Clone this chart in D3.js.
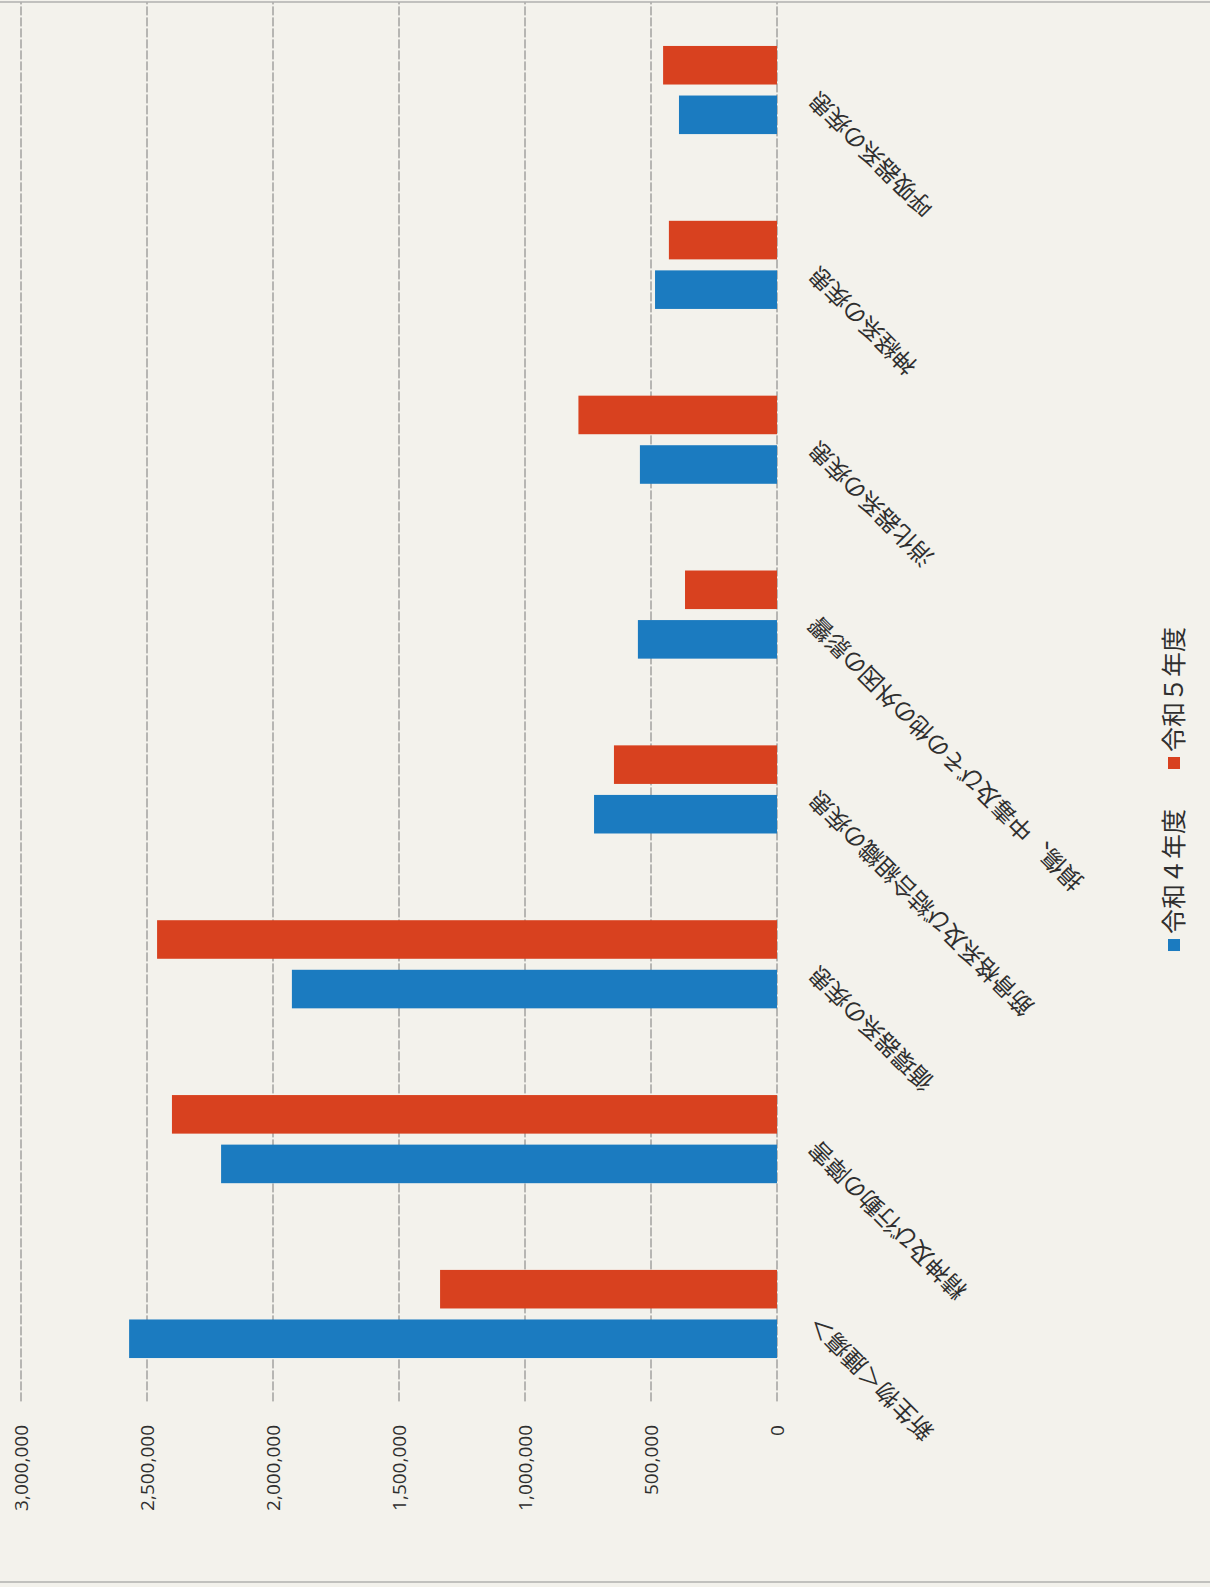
<!DOCTYPE html>
<html>
<head>
<meta charset="utf-8">
<script src="https://cdn.jsdelivr.net/npm/d3@7"></script>
<style>
  body { margin: 0; background: #f3f2ec; }
  svg { display: block; }
  text { font-family: "Noto Sans CJK JP", "Noto Sans", sans-serif; fill: #2f2f2f; }
</style>
</head>
<body>
<div id="chart"></div>
<script>
// values
var categories = [
  "新生物＜腫瘍＞",
  "精神及び行動の障害",
  "循環器系の疾患",
  "筋骨格系及び結合組織の疾患",
  "損傷、中毒及びその他の外因の影響",
  "消化器系の疾患",
  "神経系の疾患",
  "呼吸器系の疾患"
];
var seriesNames = ["令和４年度", "令和５年度"];
var r4Values = [2571000, 2206000, 1925000, 726000, 552000, 544000, 484000, 389000];
var r5Values = [1337000, 2401000, 2460000, 647000, 365000, 788000, 429000, 452000];
var tickValues = [0, 500000, 1000000, 1500000, 2000000, 2500000, 3000000];
var colors = ["#1b7bc0", "#d8411f"];

// the page was scanned on its side: draw the chart upright in a
// 1587 x 1210 box, then turn the whole group a quarter turn
var pageW = 1210, pageH = 1587;
var plot = {left: 185.6, right: 1584.4, top: 21, bottom: 777};

var rows = categories.map(function(c, i) {
  return {name: c, values: [r4Values[i], r5Values[i]]};
});

var svg = d3.select("#chart")
  .append("svg")
    .attr("width", pageW)
    .attr("height", pageH);

svg.append("rect")
  .attr("width", pageW)
  .attr("height", pageH)
  .attr("fill", "#f3f2ec");

var chart = svg.append("g")
  .attr("transform", "translate(0," + pageH + ") rotate(-90)");

// scales
var y = d3.scaleLinear()
  .domain([0, 3000000])
  .range([plot.bottom, plot.top]);

var x0 = d3.scaleBand()
  .domain(categories)
  .range([plot.left, plot.right])
  .paddingInner(0.496)
  .paddingOuter(0.248);

var x1 = d3.scaleBand()
  .domain(seriesNames)
  .range([0, x0.bandwidth()])
  .paddingInner(0.222);

// chart border (only the two long sides show on the page)
chart.append("rect")
  .attr("x", 5)
  .attr("y", -4)
  .attr("width", 1580)
  .attr("height", pageW + 8)
  .attr("fill", "none")
  .attr("stroke", "#a0a0a0")
  .attr("stroke-width", 1.2);

// gridlines
chart.append("g")
  .attr("class", "grid")
  .selectAll("line")
  .data(tickValues)
  .enter().append("line")
    .attr("x1", plot.left)
    .attr("x2", plot.right)
    .attr("y1", function(d) { return y(d); })
    .attr("y2", function(d) { return y(d); })
    .attr("stroke", "#7a7a7a")
    .attr("stroke-width", 1)
    .attr("stroke-dasharray", "9,2");

// value axis labels
var yAxis = d3.axisLeft(y)
  .tickValues(tickValues)
  .tickSize(0)
  .tickPadding(0)
  .tickFormat(d3.format(","));

chart.append("g")
  .attr("transform", "translate(162,0)")
  .call(yAxis)
  .call(function(g) { g.select(".domain").remove(); })
  .selectAll("text")
    .attr("font-size", 19)
    .attr("dy", "0.35em")
    .style("fill", "#2f2f2f")
    .style("font-family", "\"Open Sans\", \"Noto Sans\", sans-serif");

// bars
var groups = chart.append("g")
  .selectAll("g")
  .data(rows)
  .enter().append("g")
    .attr("transform", function(d) { return "translate(" + x0(d.name) + ",0)"; });

groups.selectAll("rect")
  .data(function(d) { return d.values.map(function(v, i) { return {key: seriesNames[i], value: v, i: i}; }); })
  .enter().append("rect")
    .attr("x", function(d) { return x1(d.key); })
    .attr("width", x1.bandwidth())
    .attr("y", function(d) { return y(d.value); })
    .attr("height", function(d) { return y(0) - y(d.value); })
    .attr("fill", function(d) { return colors[d.i]; });

// category labels, slanted 45 degrees
chart.append("g")
  .selectAll("text")
  .data(categories)
  .enter().append("text")
    .attr("transform", function(d) {
      return "translate(" + (x0(d) + x0.bandwidth() / 2) + "," + (plot.bottom + 42) + ") rotate(-45)";
    })
    .attr("text-anchor", "end")
    .attr("font-size", 23.5)
    .text(function(d) { return d; });

// legend
var legend = chart.append("g")
  .attr("transform", "translate(0,1174)");

var items = legend.selectAll("g")
  .data(seriesNames)
  .enter().append("g");

items.append("rect")
  .attr("width", 12)
  .attr("height", 12)
  .attr("y", -6)
  .attr("fill", function(d, i) { return colors[i]; });

items.append("text")
  .attr("x", 17)
  .attr("dy", "0.35em")
  .attr("font-size", 25)
  .text(function(d) { return d; });

// lay the legend items out in a row centred under the plot
var gap = 40, widths = [];
items.each(function() { widths.push(this.getBBox().width); });
var total = d3.sum(widths) + gap * (widths.length - 1);
var cx = 798 - total / 2;
items.attr("transform", function(d, i) {
  var left = cx + d3.sum(widths.slice(0, i)) + gap * i;
  return "translate(" + left + ",0)";
});
</script>
</body>
</html>
